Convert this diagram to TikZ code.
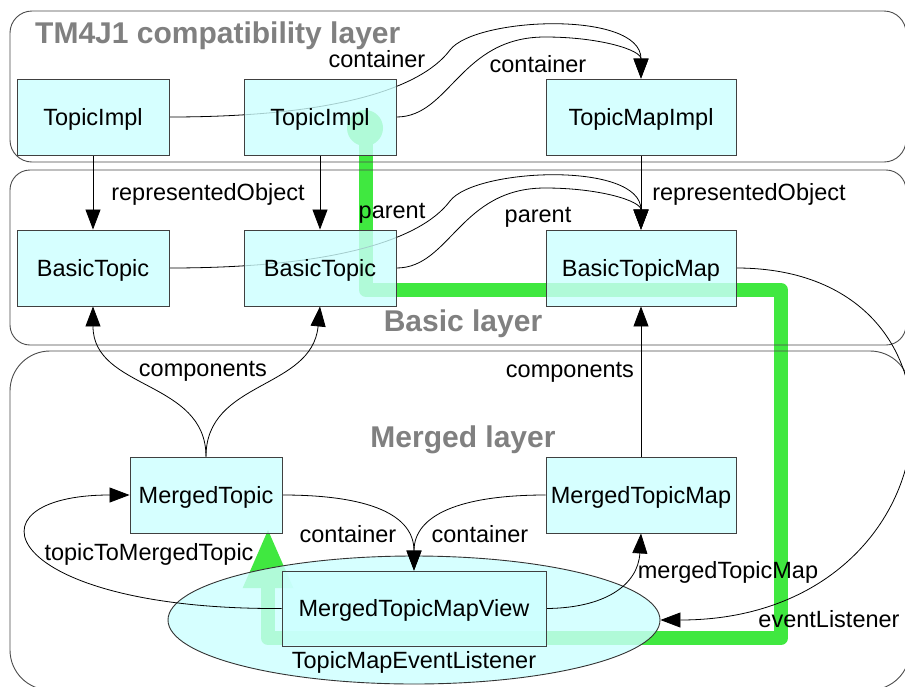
\documentclass[tikz,border=0pt]{standalone}
\usepackage{fontspec}
\setmainfont{Liberation Sans}
\usetikzlibrary{arrows.meta,shapes.geometric}
\definecolor{boxfill}{RGB}{204,255,255}
\definecolor{grn}{RGB}{64,232,64}
\definecolor{ttlgray}{RGB}{128,128,128}
\pgfdeclarelayer{fg}
\pgfsetlayers{main,fg}
\begin{document}
\begin{tikzpicture}[x=1pt,y=-1pt,
  cls/.style={draw=black!75, line width=0.9pt, fill=boxfill, fill opacity=0.8, text opacity=1,
    minimum height=76pt, inner sep=0pt, text height=18pt, text depth=2pt,
    font=\fontsize{23.5}{28}\selectfont},
  lbl/.style={font=\fontsize{23.5}{28}\selectfont, inner sep=0pt, anchor=base},
  layerbox/.style={draw=black!70, line width=0.9pt},
  ttl/.style={font=\fontsize{30}{36}\selectfont\bfseries, text=ttlgray, inner sep=0pt},
  conn/.style={draw=black, line width=0.8pt},
  arr/.style={conn, -{Triangle[length=20pt,width=15pt]}},
]
\useasboundingbox (0,0) rectangle (905,686);
\fill[white] (0,0) rectangle (905,686);

% green highlight path
\fill[grn] (365,128) circle[radius=18];
\draw[grn, line width=14pt, line join=round, -{Triangle[length=60pt,width=46pt]}]
  (366,128) -- (366,290) -- (781,290) -- (781,638) -- (268,638) -- (268,528);

% layers
\draw[layerbox, rounded corners=22pt] (10,11) rectangle (906,162);
\draw[layerbox, rounded corners=20pt] (10,170) rectangle (906,345);
\draw[layerbox, rounded corners=40pt] (10,351) rectangle (910,690);
\node[ttl, anchor=base west] (t1) at (35,43) {TM4J1 compatibility layer};
\node[ttl, anchor=base] (t2) at (463,331) {Basic layer};
\node[ttl, anchor=base] (t3) at (463,447) {Merged layer};

% ellipse
\node[draw=black!80, line width=0.9pt, fill=boxfill, fill opacity=0.8, ellipse,
  minimum width=492pt, minimum height=128pt, inner sep=0pt] (Ell) at (414,620) {};

% boxes
\begin{pgfonlayer}{fg}
\node[cls, minimum width=152pt] (TI1) at (93,117) {TopicImpl};
\node[cls, minimum width=152pt] (TI2) at (320,117) {TopicImpl};
\node[cls, minimum width=190pt] (TMI) at (641,117) {TopicMapImpl};
\node[cls, minimum width=152pt] (BT1) at (93,268) {BasicTopic};
\node[cls, minimum width=152pt] (BT2) at (320,268) {BasicTopic};
\node[cls, minimum width=190pt] (BTM) at (641,268) {BasicTopicMap};
\node[cls, minimum width=152pt] (MT) at (206,495) {MergedTopic};
\node[cls, minimum width=190pt] (MTM) at (641,495) {MergedTopicMap};
\node[cls, minimum width=264pt, minimum height=75pt] (MTMV) at (414,608.5) {MergedTopicMapView};
\end{pgfonlayer}

% connectors
\draw[arr] (TI1.east) .. controls (330,117) and (420,90) .. (450,50)
  .. controls (475,17) and (641,10) .. (TMI.north);
\draw[arr] (TI2.east) .. controls (450,117) and (460,37) .. (545,37)
  .. controls (600,37) and (641,50) .. (TMI.north);
\draw[arr] (BT1.east) .. controls (330,268) and (420,241) .. (450,201)
  .. controls (475,168) and (641,161) .. (BTM.north);
\draw[arr] (BT2.east) .. controls (450,268) and (460,188) .. (545,188)
  .. controls (600,188) and (641,201) .. (BTM.north);
\draw[arr] (TI1.south) -- (BT1.north);
\draw[arr] (TI2.south) -- (BT2.north);
\draw[arr] (TMI.south) -- (BTM.north);
\draw[arr] (MTM.north) -- (BTM.south);
\draw[arr] (MT.north) .. controls (206,380) and (93,390) .. (BT1.south);
\draw[arr] (MT.north) .. controls (206,380) and (312,390) .. (BT2.south);
\draw[arr] (MT.east) .. controls (370,495) and (414,515) .. (MTMV.north);
\draw[arr] (MTM.west) .. controls (460,495) and (414,515) .. (MTMV.north);
\draw[arr] (MTMV.west) .. controls (0,610) and (-40,495) .. (MT.west);
\draw[arr] (MTMV.east) .. controls (605,608) and (638,585) .. (MTM.south);
\draw[arr] (BTM.east) .. controls (996,268) and (960,620) .. (Ell.east);

% labels
\node[lbl] (l1) at (377,67) {container};
\node[lbl] (l2) at (538,72) {container};
\node[lbl] (l3) at (208,200) {representedObject};
\node[lbl] (l4) at (749,200) {representedObject};
\node[lbl] (l5) at (392,218) {parent};
\node[lbl] (l6) at (538,222) {parent};
\node[lbl] (l7) at (203,376) {components};
\node[lbl] (l8) at (570,377) {components};
\node[lbl] (l9) at (348,542) {container};
\node[lbl] (l10) at (480,542) {container};
\node[lbl] (l11) at (149,560) {topicToMergedTopic};
\node[lbl] (l12) at (728,578) {mergedTopicMap};
\node[lbl] (l13) at (829,627) {eventListener};
\node[lbl] (l14) at (414,668) {TopicMapEventListener};
\end{tikzpicture}
\end{document}
